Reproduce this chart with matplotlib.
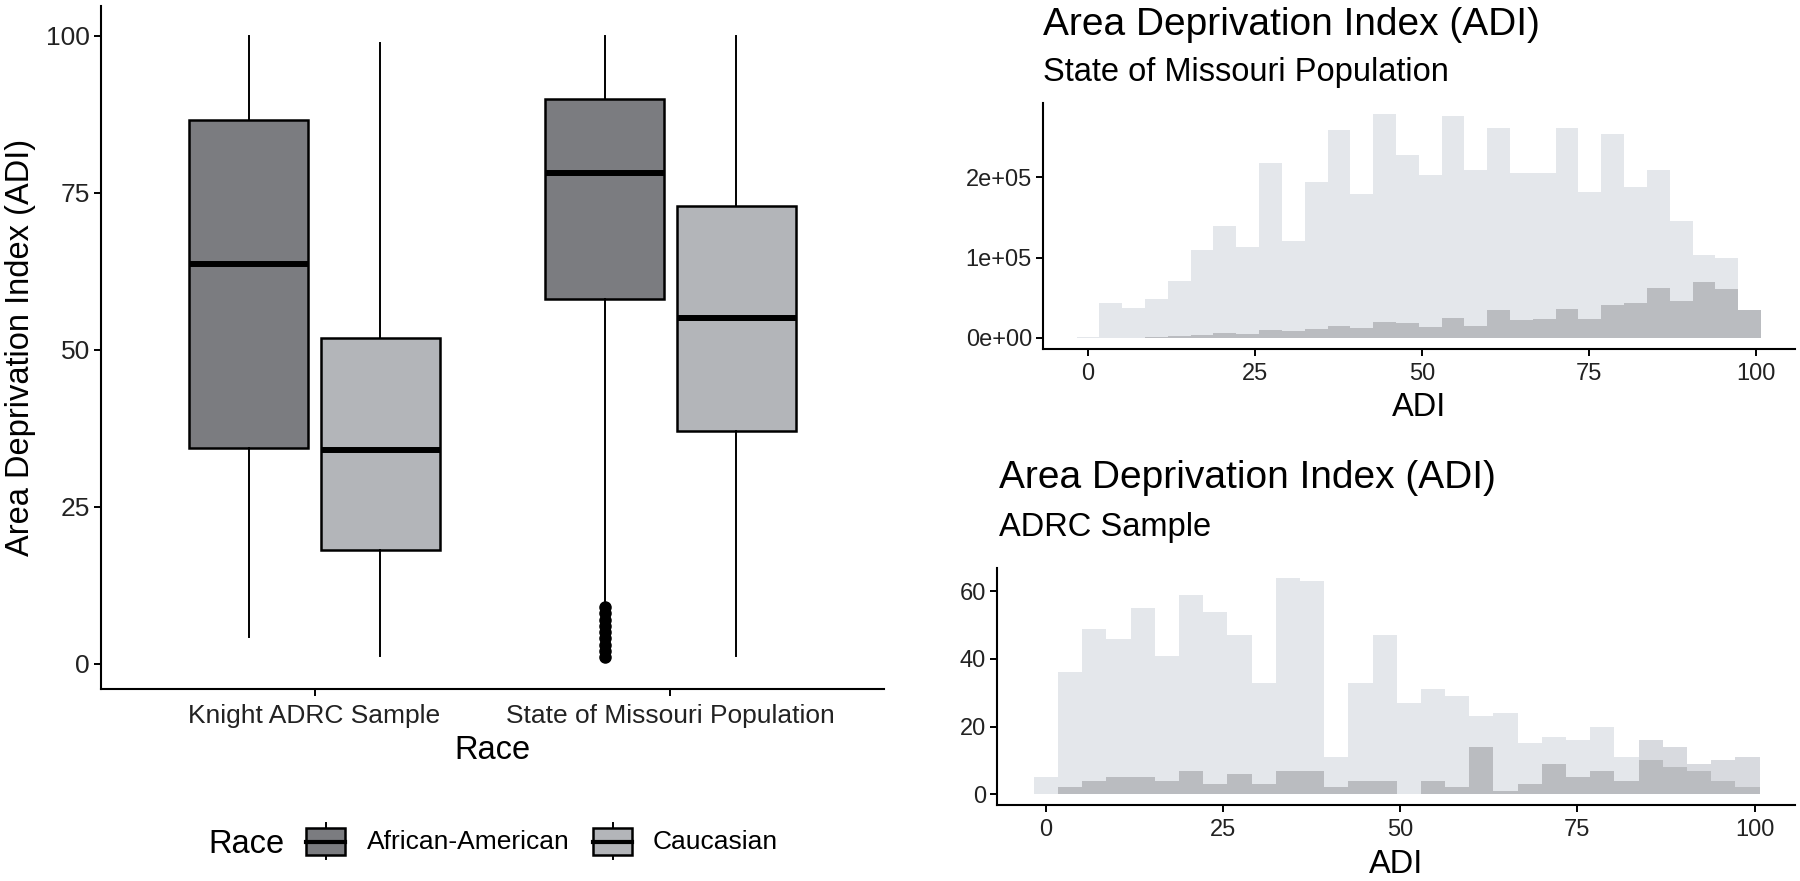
"""
ADI by race: boxplot plus two overlaid histograms (Missouri population, ADRC sample)
"""
import numpy as np
import matplotlib
matplotlib.use('Agg')
import matplotlib.pyplot as plt
from matplotlib.patches import Rectangle
from matplotlib.lines import Line2D

plt.rcParams['font.family'] = ['Liberation Sans', 'DejaVu Sans']

# ---- data ----
groups = ['Knight ADRC Sample', 'State of Missouri Population']
races = ['African-American', 'Caucasian']

# box stats per group, order: AA, Caucasian
box_q1 = [[34.3, 18.1], [58.0, 37.0]]
box_med = [[63.6, 34.0], [78.1, 55.0]]
box_q3 = [[86.6, 51.9], [89.9, 72.9]]
box_lo = [[4.2, 1.2], [10.0, 1.2]]
box_hi = [[100.0, 98.9], [100.0, 100.0]]
missouri_aa_outliers = [1, 2, 3, 4, 5, 6, 7, 8, 9]

# histogram bins (30 bins, ADI 0..99 centers)
bin_centers = np.linspace(0, 99, 30)

missouri_cauc = [1200, 43700, 37000, 48200, 70700, 109400, 139300, 113500, 217900, 120200,
                 194200, 259000, 179600, 278200, 227400, 202500, 276900, 209100, 261500, 205800,
                 205400, 261500, 182100, 253600, 187500, 209100, 145500, 103500, 99000, 34900]
missouri_aa = [0, 0, 0, 1200, 2500, 3300, 5800, 4200, 9100, 8700,
               11200, 14100, 11600, 20000, 18300, 12900, 24100, 14600, 34100, 22500,
               23300, 35300, 23700, 40300, 42800, 61500, 46200, 69000, 60300, 34900]

adrc_cauc = [5, 36, 49, 46, 55, 41, 59, 54, 47, 33,
             64, 63, 11, 33, 47, 27, 31, 29, 23, 24,
             15, 17, 16, 20, 11, 10, 8, 7, 4, 2]
adrc_aa = [0, 2, 4, 5, 5, 4, 7, 3, 6, 3,
           7, 7, 2, 4, 4, 0, 4, 2, 14, 1,
           3, 9, 5, 7, 4, 16, 14, 9, 10, 11]

box_colors = ['#7b7c80', '#b3b5b9']
hist_light = '#e4e7eb'   # Caucasian only
hist_mid = '#d8dadf'     # African-American only
hist_dark = '#babcc0'    # overlap

W, H = 1800, 881
fig = plt.figure(figsize=(W / 100, H / 100), dpi=100)


def fig_rect(left, top, right, bottom):
    # pixel box -> figure fraction
    return [left / W, 1 - bottom / H, (right - left) / W, (bottom - top) / H]


def style_axis(ax, size, pad=3):
    for s in ['top', 'right']:
        ax.spines[s].set_visible(False)
    for s in ['left', 'bottom']:
        ax.spines[s].set_linewidth(1.5)
    ax.tick_params(length=5, width=1.4, labelsize=size, color='black', labelcolor='#222222', pad=pad)


# ---- boxplot ----
ax = fig.add_axes(fig_rect(101, 6, 884, 689))
offsets = [-0.185, 0.185]
for gi in range(len(groups)):
    for ri in range(len(races)):
        st = dict(med=box_med[gi][ri], q1=box_q1[gi][ri], q3=box_q3[gi][ri],
                  whislo=box_lo[gi][ri], whishi=box_hi[gi][ri],
                  fliers=missouri_aa_outliers if (gi == 1 and ri == 0) else [])
        ax.bxp([st], positions=[gi + 1 + offsets[ri]], widths=0.333, patch_artist=True,
               showcaps=False,
               boxprops=dict(facecolor=box_colors[ri], edgecolor='black', linewidth=1.8),
               medianprops=dict(color='black', linewidth=4.3, solid_capstyle='butt'),
               whiskerprops=dict(color='black', linewidth=1.4),
               flierprops=dict(marker='o', markerfacecolor='black', markeredgecolor='black',
                               markersize=8))
ax.set_xlim(0.4, 2.6)
ax.set_ylim(-4.05, 104.75)
ax.set_xticks([1, 2])
ax.set_xticklabels(groups)
ax.set_yticks([0, 25, 50, 75, 100])
style_axis(ax, 19)
ax.tick_params(axis='x', pad=6)
ax.set_xlabel('Race', fontsize=23.5, labelpad=5)
ax.set_ylabel('Area Deprivation Index (ADI)', fontsize=23.5, labelpad=7)

# ---- legend (drawn by hand, ggplot style keys) ----
fig.text(208 / W, 1 - 853 / H, 'Race', fontsize=23.5, va='baseline', ha='left')
for key_left, text_left, col, lab in [(306, 367, box_colors[0], races[0]),
                                      (593, 653, box_colors[1], races[1])]:
    cx = key_left + 19.5
    fig.add_artist(Line2D([cx / W, cx / W], [1 - 823 / H, 1 - 859 / H], color='black',
                          linewidth=1.4, transform=fig.transFigure, zorder=2))
    fig.add_artist(Rectangle((key_left / W, 1 - 855 / H), 39 / W, 27 / H, facecolor=col,
                             edgecolor='black', linewidth=1.8, transform=fig.transFigure,
                             zorder=3))
    fig.add_artist(Line2D([key_left / W, (key_left + 39) / W], [1 - 841.5 / H, 1 - 841.5 / H],
                          color='black', linewidth=3, transform=fig.transFigure, zorder=4))
    fig.text(text_left / W, 1 - 849 / H, lab, fontsize=19, va='baseline', ha='left')

# ---- histograms ----
binw = bin_centers[1] - bin_centers[0]


def draw_hist(ax, cauc, aa):
    cauc = np.asarray(cauc)
    aa = np.asarray(aa)
    top = np.maximum(cauc, aa)
    low = np.minimum(cauc, aa)
    top_cols = np.where(aa > cauc, hist_mid, hist_light)
    ax.bar(bin_centers, top, width=binw, color=top_cols, linewidth=0)
    ax.bar(bin_centers, low, width=binw, color=hist_dark, linewidth=0)
    ax.set_xticks([0, 25, 50, 75, 100])
    style_axis(ax, 17)
    ax.tick_params(axis='x', pad=5)


ax1 = fig.add_axes(fig_rect(1043, 103, 1795, 349))
draw_hist(ax1, missouri_cauc, missouri_aa)
ax1.set_xlim(-6.73, 105.8)
ax1.set_ylim(-14000, 292500)
ax1.set_yticks([0, 100000, 200000])
ax1.set_yticklabels(['0e+00', '1e+05', '2e+05'])
ax1.set_xlabel('ADI', fontsize=23.5, labelpad=5)
fig.text(1043 / W, 1 - 35 / H, 'Area Deprivation Index (ADI)', fontsize=28, va='baseline')
fig.text(1043 / W, 1 - 81 / H, 'State of Missouri Population', fontsize=23.5, va='baseline')

ax2 = fig.add_axes(fig_rect(997, 568, 1795, 805))
draw_hist(ax2, adrc_cauc, adrc_aa)
ax2.set_xlim(-6.9, 105.7)
ax2.set_ylim(-3.2, 66.9)
ax2.set_yticks([0, 20, 40, 60])
ax2.set_xlabel('ADI', fontsize=23.5, labelpad=6)
fig.text(999 / W, 1 - 488 / H, 'Area Deprivation Index (ADI)', fontsize=28, va='baseline')
fig.text(999 / W, 1 - 536 / H, 'ADRC Sample', fontsize=23.5, va='baseline')

fig.savefig('out.png', dpi=100)
plt.close(fig)
